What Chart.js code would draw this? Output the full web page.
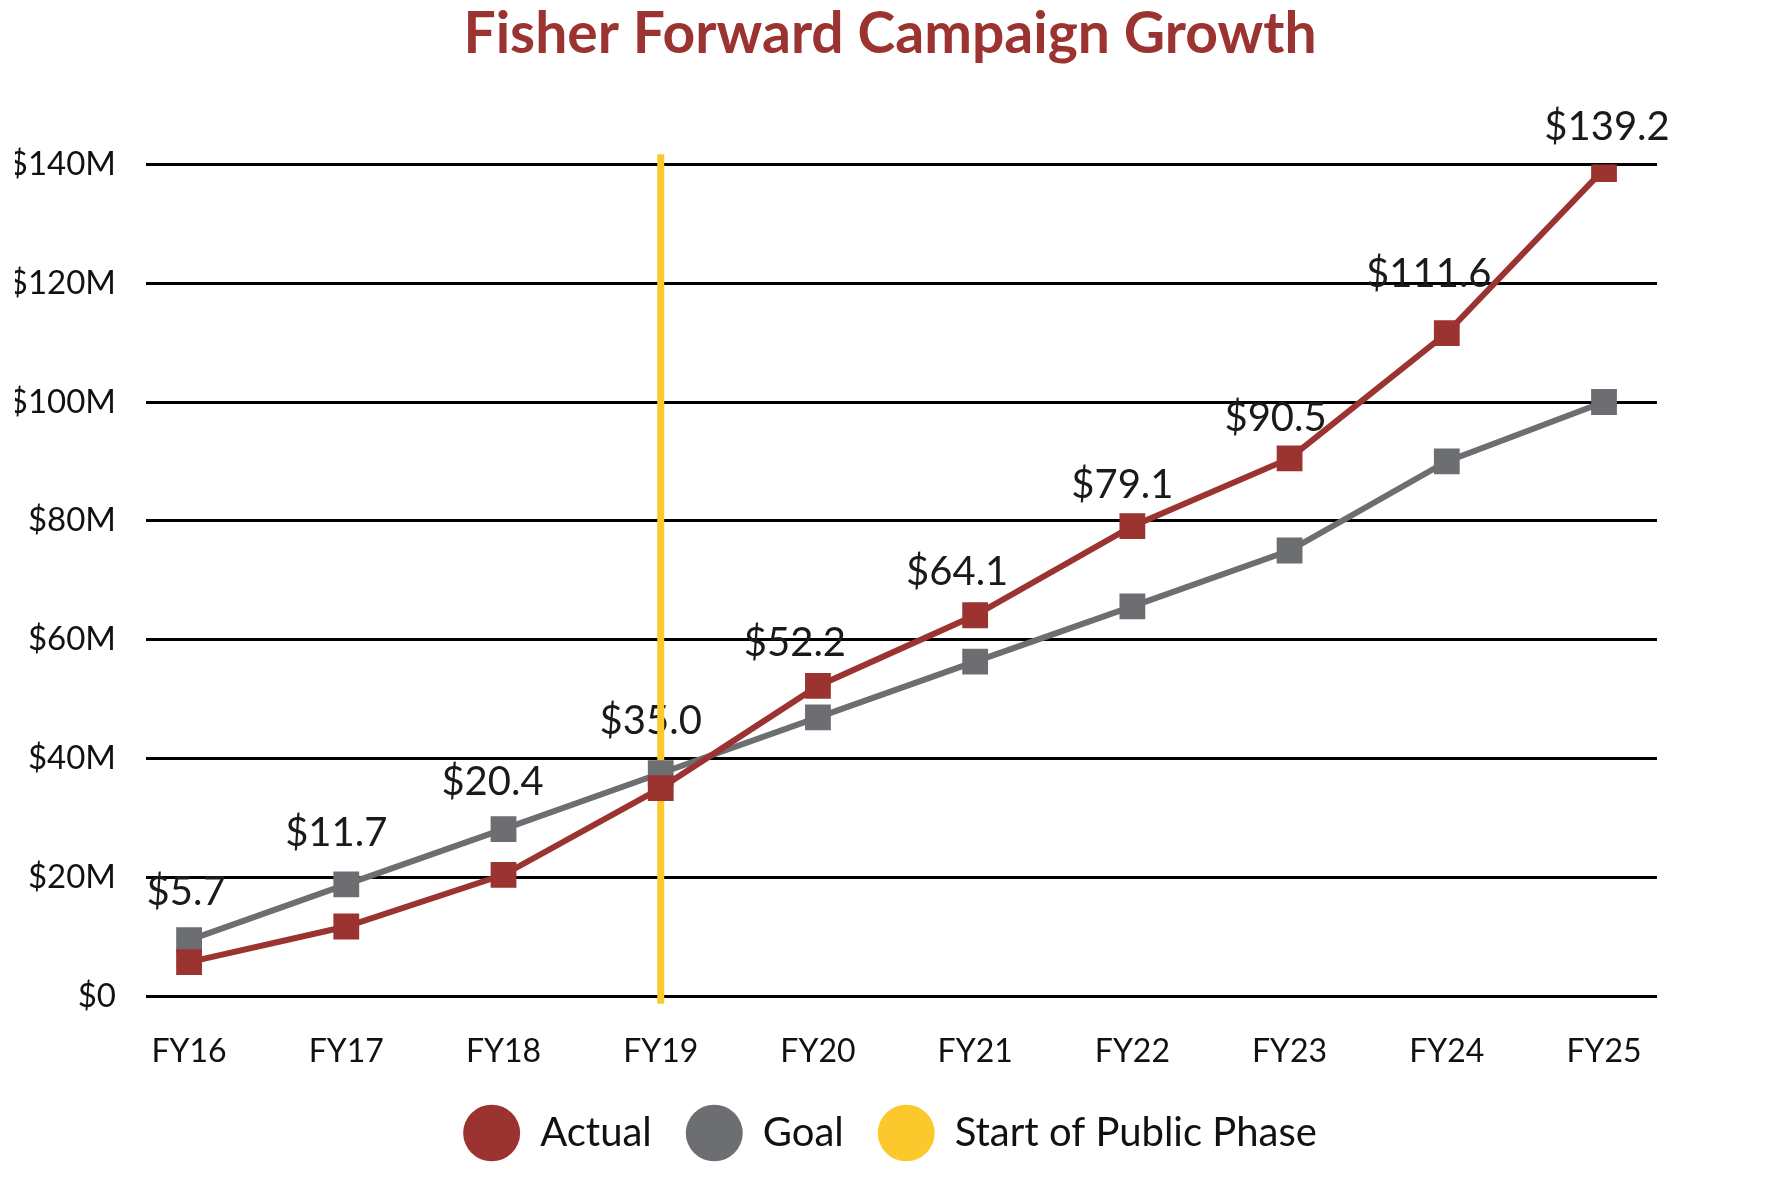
<!DOCTYPE html>
<html>
<head>
<meta charset="utf-8">
<title>Fisher Forward Campaign Growth</title>
<script src="https://cdn.jsdelivr.net/npm/chart.js@4.4.1/dist/chart.umd.min.js"></script>
<style>
  html, body { margin: 0; padding: 0; background: #fff; }
  #wrap { width: 1765px; height: 1196px; }
</style>
</head>
<body>
<div id="wrap"><canvas id="myChart" width="1765" height="1196"></canvas></div>
<script>
// chart data
const categories = ["FY16", "FY17", "FY18", "FY19", "FY20", "FY21", "FY22", "FY23", "FY24", "FY25"]
const actual = [5.7, 11.7, 20.4, 35.0, 52.2, 64.1, 79.1, 90.5, 111.6, 139.2]
const goal = [9.4, 18.8, 28.1, 37.5, 46.9, 56.3, 65.6, 75.0, 90.0, 100.0]
const yTicks = [0, 20, 40, 60, 80, 100, 120, 140]
const publicPhaseStart = "FY19"

const red = "#9b3331"
const gray = "#6d6e71"
const yellow = "#fcc92d"

// where each value label sits relative to its point (px)
const labelShift = [[-3, -70], [-10, -93], [-11, -93], [-10, -67], [-23, -43], [-18, -43], [-10, -41], [-14, -40], [-18, -59], [3, -42]]

const phaseIdx = categories.indexOf(publicPhaseStart)

// value labels for the Actual line, drawn under the lines like the original
const valueLabels = {
    id: "valueLabels",
    beforeDatasetsDraw(chart) {
        const ctx = chart.ctx
        const meta = chart.getDatasetMeta(0)
        ctx.save()
        ctx.font = "400 40px Lato"
        ctx.fillStyle = "#1a1a1a"
        ctx.textAlign = "center"
        ctx.textBaseline = "middle"
        meta.data.forEach((pt, i) => {
            ctx.fillText("$" + actual[i].toFixed(1), pt.x + labelShift[i][0], pt.y + labelShift[i][1])
        })
        ctx.restore()
    }
}

const ctx = document.getElementById("myChart")
const myChart = new Chart(ctx, {
    type: "line",
    data: {
        datasets: [{
            label: "Actual",
            data: actual.map((v, i) => ({ x: i, y: v })),
            borderColor: red,
            backgroundColor: red,
            borderWidth: 6,
            pointStyle: "rect",
            pointRadius: 14,
            tension: 0,
            order: 0
        }, {
            label: "Goal",
            data: goal.map((v, i) => ({ x: i, y: v })),
            borderColor: gray,
            backgroundColor: gray,
            borderWidth: 6,
            pointStyle: "rect",
            pointRadius: 14,
            tension: 0,
            order: 0
        }, {
            label: "Start of Public Phase",
            data: [{ x: phaseIdx, y: yTicks[0] - 1.3 }, { x: phaseIdx, y: yTicks[yTicks.length - 1] + 1.7 }],
            borderColor: yellow,
            backgroundColor: yellow,
            borderWidth: 7,
            pointRadius: 0,
            clip: false,
            order: 1
        }]
    },
    options: {
        responsive: false,
        devicePixelRatio: 1,
        animation: false,
        layout: { padding: { left: 15, right: 0, top: 0, bottom: 33 } },
        plugins: {
            tooltip: { enabled: false },
            title: {
                display: true,
                text: "Fisher Forward Campaign Growth",
                color: red,
                font: { family: "Lato", size: 57, weight: "bold" },
                padding: { top: 0, bottom: 96 }
            },
            legend: {
                position: "bottom",
                labels: {
                    usePointStyle: true,
                    pointStyle: "circle",
                    pointStyleWidth: 57,
                    boxHeight: 40,
                    padding: 34,
                    color: "#111",
                    font: { family: "Lato", size: 40 },
                    generateLabels(chart) {
                        return Chart.defaults.plugins.legend.labels.generateLabels(chart).map(l => ({ ...l, lineWidth: 0 }))
                    }
                }
            }
        },
        scales: {
            x: {
                type: "linear",
                min: -0.274,
                max: 9.337,
                afterBuildTicks: s => { s.ticks = categories.map((c, i) => ({ value: i })) },
                afterFit: s => { s.height = 83 },
                grid: { display: false },
                border: { display: false },
                ticks: {
                    callback: v => categories[v],
                    color: "#111",
                    font: { family: "Lato", size: 32 },
                    padding: 28,
                    autoSkip: false,
                    maxRotation: 0
                }
            },
            y: {
                min: yTicks[0],
                max: yTicks[yTicks.length - 1],
                afterBuildTicks: s => { s.ticks = yTicks.map(v => ({ value: v })) },
                afterFit: s => { s.width = 131 },
                grid: { color: "#000", lineWidth: 3, drawTicks: false },
                border: { display: false },
                ticks: {
                    callback: v => v === 0 ? "$0" : "$" + v + "M",
                    color: "#111",
                    font: { family: "Lato", size: 33 },
                    padding: 30
                }
            },
            // empty right-hand strip, keeps the plot off the right edge
            yRight: {
                position: "right",
                afterFit: s => { s.width = 108 },
                grid: { display: false },
                border: { display: false },
                ticks: { display: false }
            }
        }
    },
    plugins: [valueLabels]
})
</script>
</body>
</html>
